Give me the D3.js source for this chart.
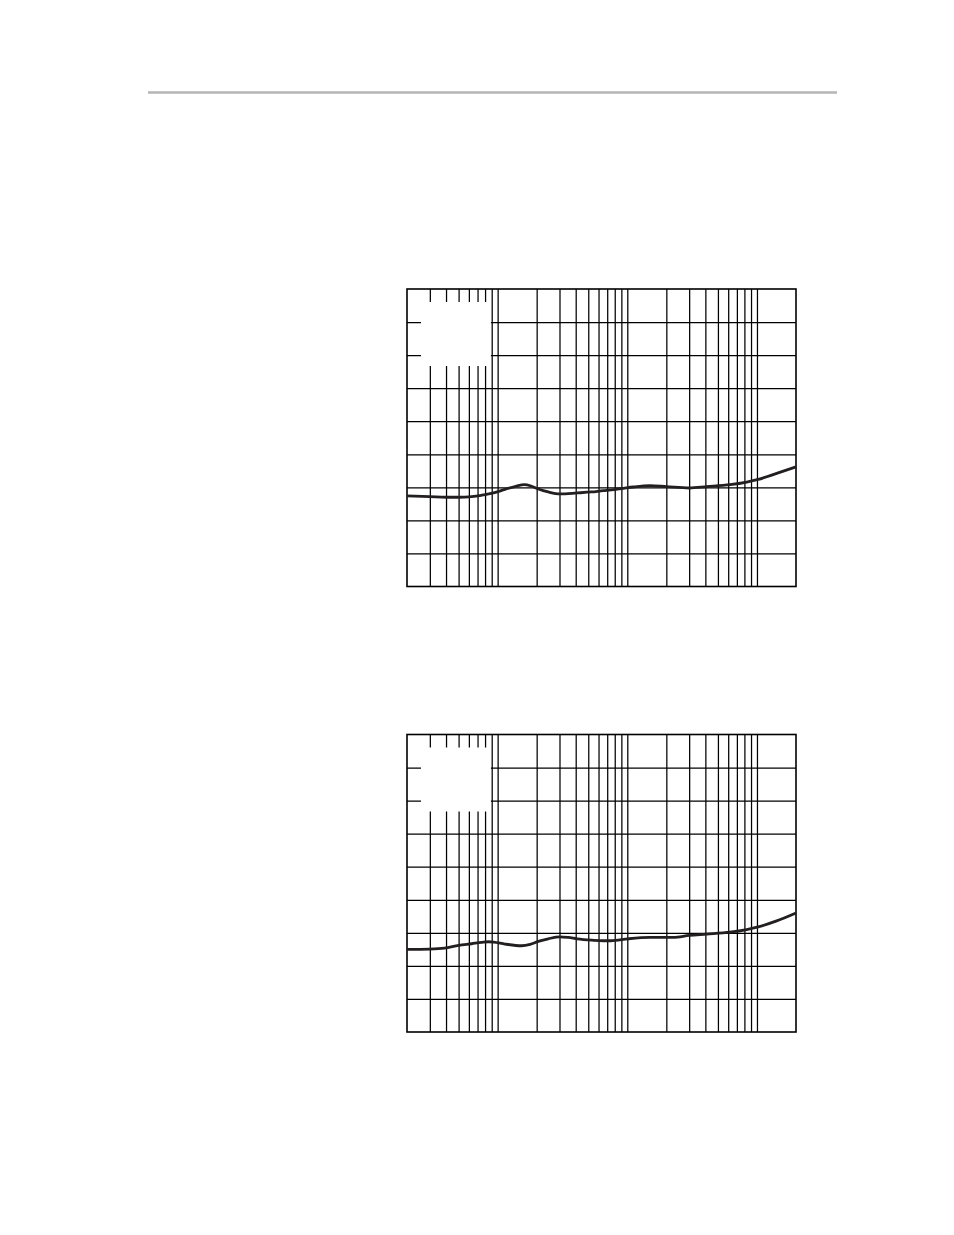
<!DOCTYPE html>
<html>
<head>
<meta charset="utf-8">
<script src="https://cdn.jsdelivr.net/npm/d3@7"></script>
<style>
  body { margin: 0; background: #fff; }
  svg { display: block; }
</style>
</head>
<body>
<div class="page"></div>
<script>
// frequency points (Hz) and level readings (dB) for each panel
const freqTop = [20, 30, 40, 50, 63, 75, 93, 114, 140, 160, 181, 206, 246, 302, 411, 531, 653, 748, 931, 1112, 1496, 2011, 3006, 4096, 6194, 8336, 10238, 14190, 20000];
const levelTop = [-72.6, -72.8, -73.0, -73.0, -72.8, -72.4, -71.7, -70.6, -69.6, -69.2, -69.6, -70.5, -71.4, -72.0, -71.7, -71.4, -71.0, -70.8, -70.3, -69.9, -69.5, -69.8, -70.2, -69.8, -69.2, -68.4, -67.6, -65.8, -63.8];

const freqBottom = [20, 30, 39, 50, 63, 75, 85, 93, 114, 153, 178, 206, 246, 302, 351, 411, 531, 653, 748, 1018, 1496, 2264, 3006, 4096, 6194, 8336, 10238, 14190, 20000];
const levelBottom = [-75.0, -74.9, -74.6, -73.8, -73.3, -72.9, -72.7, -72.8, -73.4, -73.9, -73.5, -72.6, -71.8, -71.2, -71.4, -71.8, -72.2, -72.4, -72.4, -71.8, -71.4, -71.4, -70.8, -70.4, -69.8, -69.0, -68.2, -66.4, -64.0];

const freqDomain = [20, 20000];
const levelDomain = [-100, -10];
const levelTicks = d3.range(-90, -10, 10);

const W = 954, H = 1235;
const svg = d3.select(".page").append("svg")
    .attr("width", W)
    .attr("height", H);

svg.append("rect").attr("width", W).attr("height", H).attr("fill", "#fff");

// header rule
svg.append("line")
    .attr("x1", 148).attr("x2", 837)
    .attr("y1", 92.5).attr("y2", 92.5)
    .attr("stroke", "#b5b5b5")
    .attr("stroke-width", 2.6);

function panel(top, freqs, levels) {
    let left = 407, width = 389, height = 297.5;
    let g = svg.append("g").attr("transform", "translate(" + left + "," + top + ")");

    let x = d3.scaleLog().domain(freqDomain).range([0, width]);
    let y = d3.scaleLinear().domain(levelDomain).range([height, 0]);

    let xTicks = x.ticks().filter(d => d > freqDomain[0] && d < freqDomain[1]);

    // vertical grid
    g.append("g")
        .attr("transform", "translate(0," + height + ")")
        .call(d3.axisBottom(x).tickValues(xTicks).tickSize(height).tickFormat(""))
        .call(a => a.select(".domain").remove())
        .call(a => a.selectAll(".tick line")
            .attr("y2", -height)
            .attr("stroke", "#000")
            .attr("stroke-width", 1.25));

    // horizontal grid
    g.append("g")
        .call(d3.axisLeft(y).tickValues(levelTicks).tickSize(-width).tickFormat(""))
        .call(a => a.select(".domain").remove())
        .call(a => a.selectAll(".tick line")
            .attr("stroke", "#000")
            .attr("stroke-width", 1.25));

    // blank legend area (text removed)
    let bx0 = 14, bx1 = x(90) - 0.8;
    g.append("rect")
        .attr("x", bx0)
        .attr("y", 13)
        .attr("width", bx1 - bx0)
        .attr("height", 64)
        .attr("fill", "#fff");

    // frame
    g.append("rect")
        .attr("width", width)
        .attr("height", height)
        .attr("fill", "none")
        .attr("stroke", "#000")
        .attr("stroke-width", 1.6);

    let line = d3.line()
        .curve(d3.curveMonotoneX)
        .x((d, i) => x(freqs[i]))
        .y(d => y(d));

    g.append("path")
        .datum(levels)
        .attr("d", line)
        .attr("fill", "none")
        .attr("stroke", "#231f20")
        .attr("stroke-width", 2.8)
        .attr("stroke-linejoin", "round");
}

panel(289, freqTop, levelTop);
panel(734.5, freqBottom, levelBottom);
</script>
</body>
</html>
